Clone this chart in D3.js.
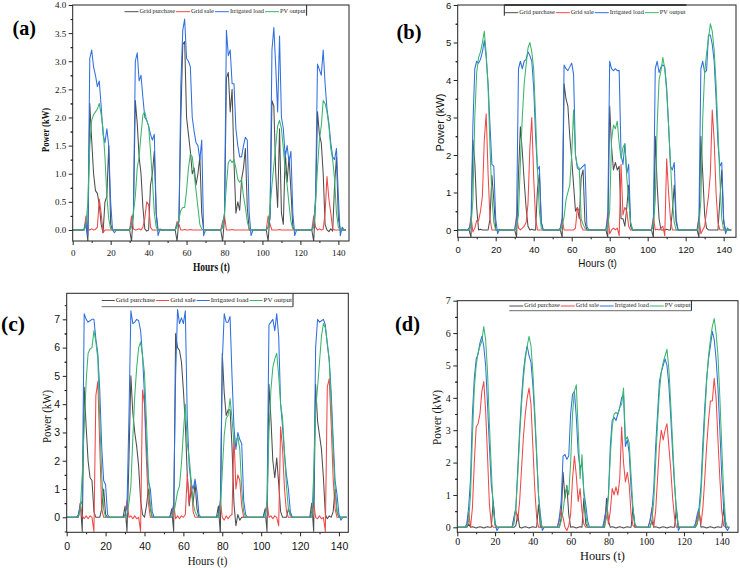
<!DOCTYPE html>
<html><head><meta charset="utf-8">
<script src="https://cdn.jsdelivr.net/npm/d3@7/dist/d3.min.js"></script>
<style>body{margin:0;background:#fff}svg{display:block}</style>
</head><body>
<svg id="chart" width="740" height="568"></svg>
<script>
// ---------------- DATA ----------------
const hours = d3.range(0, 145); // hourly time stamps t = 0..144
const seriesNames = ["Grid purchase", "Grid sale", "Irrigated load", "PV output"];
const xTicks = [0, 20, 40, 60, 80, 100, 120, 140];
const aYTicks = [0, 0.5, 1.0, 1.5, 2.0, 2.5, 3.0, 3.5, 4.0];
const bYTicks = [0, 1, 2, 3, 4, 5, 6];
const cYTicks = [0, 1, 2, 3, 4, 5, 6, 7];
const dYTicks = [0, 1, 2, 3, 4, 5, 6, 7];

// Panel (a)
const aPurchase = [
0,0,0,0,0,0,0,0.1,-0.2,2.25,1.6,1.0,0.7,0.65,0.45,0.1,-0.05,0.5,0.6,1.5,0.1,0,0,0,
0,0,0,0,0,0,0,-0.2,0.3,2.3,1.9,1.3,1.0,0.4,0.02,-0.02,0,0.8,1.0,1.4,0.3,0,0,0,
0,0,0,0,0,0,0,-0.2,0.2,2.0,3.3,3.35,2.0,1.7,1.4,1.0,1.1,0.8,1.0,1.3,0.3,0,0,0,
0,0,0,0,0,0,0,-0.2,0.2,2.7,2.8,2.1,2.5,1.2,0.3,0.5,0.35,0.9,1.1,1.45,0.4,0,0,0,
0,0,0,0,0,0,0,-0.2,0.3,2.3,2.2,1.0,0.4,1.8,0.3,0.1,1.4,0.85,1.3,0.7,0.05,0,0,0,
0,0,0,0,0,0,0,-0.2,0.5,2.1,1.7,1.55,1.0,0.1,0.0,-0.03,0.02,-0.02,0.8,1.3,0.2,0,0,0,
0];
const aSale = [
0,0,0,0,0,0,0,0.25,0.02,0,0.02,0,0.01,0.05,0.55,0.3,-0.05,0,0,0,0,0,0,0,
0,0,0,0,0,0,0,0.25,0.02,0,0.01,0.02,0,0.05,0.2,0.5,0.45,0.05,0,0,0,0,0,0,
0,0,0,0,0,0,0,0.15,0.1,0,0,0.01,0,0,0.01,0,0,0,0,0,0,0,0,0,
0,0,0,0,0,0,0,0.15,0.25,0,0,0,0.01,0,0,0,0,0,0,0,0,0,0,0,
0,0,0,0,0,0,0,0.25,0.1,0,0,0,0,0.01,0,0,0,0,0,0,0,0,0,0,
0,0,0,0,0,0,0,0.25,0.05,0,0.02,0,0.01,0.3,0.95,0.55,0.3,0.02,0,0,0,0,0,0,
0];
const aLoad = [
0,0,0,0,0,0,0.02,0.15,-0.1,3.05,3.2,2.9,2.75,2.55,2.65,2.2,1.7,1.55,1.8,1.5,0.5,0,-0.05,0,
0,0,0,0,0,0,0,0.1,0.3,3.0,3.15,2.65,2.75,2.35,2.0,1.95,1.85,1.7,1.6,1.7,0.3,-0.1,0.02,0,
0,0,0,0,0,0,0,0.1,0.15,2.6,3.55,3.75,3.05,3.0,2.9,2.0,1.75,1.55,1.5,1.25,1.6,-0.1,0,0,
0,0,0,0,0,0,0,0.05,0.3,3.55,3.1,3.2,2.6,2.6,1.8,1.5,1.3,1.3,1.5,1.65,1.6,0.3,-0.1,0,
0,0,0,0,0,0,0,0.05,0.2,3.2,3.6,2.9,2.1,3.45,2.0,1.8,1.3,1.5,1.2,1.4,0.3,-0.1,0,0,
0,0,0,0,0,0,0,0.1,0.6,2.95,2.85,2.75,3.2,2.6,2.15,1.9,1.55,1.3,1.25,1.45,0.6,-0.1,0.05,0,
0];
const aPV = [
0,0,0,0,0,0,0,0.1,0.5,1.5,1.95,2.05,2.1,2.15,2.25,2.05,1.8,1.3,0.6,0.2,0.02,0,0,0,
0,0,0,0,0,0,0,0.05,0.3,0.6,1.1,1.3,1.7,2.05,2.1,1.95,1.85,1.4,0.9,0.3,0.05,0,0,0,
0,0,0,0,0,0,0,0.05,0.2,0.35,0.4,0.4,0.7,1.1,1.35,1.3,1.0,0.7,0.4,0.1,0.02,0,0,0,
0,0,0,0,0,0,0,0.05,0.3,0.8,1.2,1.25,1.2,1.25,1.1,0.9,0.85,0.9,0.6,0.4,0.15,0.02,0,0,
0,0,0,0,0,0,0,0.05,0.4,0.8,1.15,1.5,1.85,1.95,1.8,1.45,1.05,0.8,0.45,0.15,0.02,0,0,0,
0,0,0,0,0,0,0,0.05,0.5,1.1,1.6,1.85,2.3,2.25,2.1,1.85,1.45,1.25,0.9,0.3,0.05,0,0,0,
0];

// Panel (b)
const bPurchase = [
0,0,0,0,0,0,0,-0.2,2.4,1.8,0.6,0.0,0.02,0,0,0,0,0.3,1.45,0.8,0,0,0,0,
0,0,0,0,0,0,0,-0.2,1.5,2.75,2.1,1.3,0.6,0.1,0,0.02,0,0,1.1,1.5,0.2,0,0,0,
0,0,0,0,0,0,0,-0.2,3.9,3.5,3.3,2.5,1.9,1.2,0.5,0.6,0.3,1.4,1.6,0.2,0,0,0,0,
0,0,0,0,0,0,0,-0.2,3.3,2.2,1.6,1.8,1.6,1.7,0.3,0.3,0.1,0.6,1.2,0.1,0,0,0,0,
0,0,0,0,0,0,0,-0.2,2.5,1.2,0.3,0,0,0,0.02,0,0,0.5,1.2,0.2,0,0,0,0,
0,0,0,0,0,0,0,-0.2,2.5,1.5,0.4,0.05,0,0,0,0,0,0,0.8,1.6,0.2,0,0,0,
0];
const bSale = [
0,0,0,0,0,0,0,0.35,-0.05,0.05,0.25,0.25,0.5,0.9,2.4,3.1,1.5,0.3,0,0,0,0,0,0,
0,0,0,0,0,0,0,0.4,0.05,0,0.05,0.1,0.2,0.7,2.2,3.0,1.4,0.3,0,0,0,0,0,0,
0,0,0,0,0,0,0,0.3,0,0,0,0,0,0,0.05,0.6,0.5,0.1,0,0,0,0,0,0,
0,0,0,0,0,0,0,0.45,-0.1,0,0.05,0,0.05,-0.15,1.75,0.4,0.6,0.5,0.1,0,0,0,0,0,
0,0,0,0,0,0,0,0.35,0,0.02,0,0.05,0.1,-0.15,1.9,1.0,0.3,0,0,0,0,0,0,0,
0,0,0,0,0,0,0,0.35,-0.1,0,0.1,0.5,0.9,1.5,3.2,2.4,1.0,0.2,0,0,0,0,0,0,
0];
const bLoad = [
0,0,0,0,0,0,0.05,0.2,2.8,4.3,4.5,4.45,4.55,4.75,5.05,4.6,3.9,2.8,1.75,1.7,0.3,-0.1,0.02,0,
0,0,0,0,0,0,0,0.3,4.3,4.5,4.3,4.5,4.55,4.75,4.65,4.5,3.8,2.5,1.6,1.7,0.2,0,0,0,
0,0,0,0,0,0,0.05,0.3,4.4,4.3,4.25,4.35,4.45,4.15,2.0,1.65,1.6,1.65,1.7,1.75,0.1,0,0,0,
0,0,0,0,0,0,0,0.3,4.5,4.3,4.25,4.3,4.25,4.25,2.0,1.75,2.3,1.5,1.75,0.2,0,0,0,0,
0,0,0,0,0,0,0,0.2,4.3,4.5,4.2,4.35,4.4,4.35,3.8,2.8,1.7,1.6,1.8,0.3,0,0,0,0,
0,0,0,0,0,0,0,0.3,4.3,4.5,4.2,4.25,5.2,5.2,4.95,4.5,3.5,2.3,1.7,1.8,0.3,-0.1,0.05,0,
0];
const bPV = [
0,0,0,0,0,0,0,0.1,0.8,3.0,4.2,4.6,4.75,5.0,5.3,4.7,3.8,2.2,0.9,0.2,0,0,0,0,
0,0,0,0,0,0,0,0.05,0.4,1.8,3.0,3.9,4.4,4.85,5.0,4.75,4.3,3.0,1.6,0.5,0.05,0,0,0,
0,0,0,0,0,0,0,0.1,0.35,0.8,1.0,1.2,2.0,3.2,2.0,1.7,1.65,0.3,0.15,0.05,0,0,0,0,
0,0,0,0,0,0,0,0.1,0.5,2.4,2.8,2.7,2.9,2.3,1.9,2.2,2.3,1.4,0.8,0.2,0,0,0,0,
0,0,0,0,0,0,0,0.1,0.8,2.8,4.0,4.25,4.6,4.3,3.7,2.8,1.8,0.8,0.2,0,0,0,0,0,
0,0,0,0,0,0,0,0.1,0.8,3.0,4.2,4.7,5.1,5.5,5.3,4.8,3.9,2.7,1.4,0.3,0,0,0,0,
0];

// Panel (c)
const cPurchase = [
0,0,0,0,0,0,0,0.5,-0.5,4.6,3.2,2.0,1.4,1.3,0.2,0,0,0,0.3,1.0,0.1,0,0,0,
0,0,0,0,0,0,0.4,-0.5,2.0,5.0,3.7,3.0,2.5,1.8,0.6,0.1,0,0.4,1.0,0.3,0,0,0,0,
0,0,0,0,0,0,0.3,-0.5,6.5,6.0,5.9,5.5,4.5,3.3,1.5,0.4,1.0,0.5,1.2,0.3,0,0,0,0,
0,0,0,0,0,0,0.4,-0.6,5.8,4.4,3.6,3.8,3.8,2.5,0.5,-0.3,0.1,-0.1,0,0,0,0,0,0,
0,0,0,0,0,0,0.3,-0.5,4.7,3.5,2.0,1.4,2.1,1.2,0.2,0,0,0,0.3,0.1,0,0,0,0,
0,0,0,0,0,0,0.5,-0.5,4.7,3.4,2.9,2.4,1.4,0.1,-0.05,0.05,0,0.2,1.0,0.2,0,0,0,0,
0];
const cSale = [
0,0,0,0,0,0,0,0.5,0.05,-0.05,0.05,-0.05,0.05,0,-0.5,4.3,4.8,2.5,0.3,0,0,0,0,0,
0,0,0,0,0,0,0,0.6,0,0.05,-0.05,0.05,-0.05,0,-0.5,4.5,4.0,2.0,0.5,0,0,0,0,0,
0,0,0,0,0,0,0,0.5,-0.05,0.05,-0.05,0.05,0,0.1,1.5,0.5,1.3,0.2,0,0,0,0,0,0,
0,0,0,0,0,0,0,0.6,0,-0.1,0.05,-0.05,0.05,0.1,2.9,1.0,1.5,1.3,0.4,0,0,0,0,0,
0,0,0,0,0,0,0,0.55,0,0.05,-0.05,0.05,0,-0.3,3.2,2.4,1.0,0.2,0,0,0,0,0,0,
0,0,0,0,0,0,0,0.5,0,-0.05,0.05,-0.05,0,-0.5,4.6,4.9,3.3,1.4,0.3,0,0,0,0,0,
0];
const cLoad = [
0,0,0,0,0,0,0.1,0.4,0.6,7.2,7.0,6.9,6.95,7.0,7.0,6.3,5.8,4.5,2.5,1.3,1.15,0.1,0,0,
0,0,0,0,0,0,0.1,0.4,3.5,7.3,6.85,6.9,7.0,6.95,6.6,5.7,4.3,2.5,1.3,1.0,0.2,0,0,0,
0,0,0,0,0,0,0.2,0.4,5.0,7.35,6.85,7.05,6.85,7.3,3.5,1.8,1.2,1.0,1.35,0.9,0.1,0,0,0,
0,0,0,0,0,0,0.1,0.5,5.5,7.2,6.9,6.9,7.1,5.0,3.2,2.4,3.0,2.75,2.6,0.6,0.1,0,0,0,
0,0,0,0,0,0,0.2,0.4,6.8,6.9,7.0,6.6,7.2,6.4,4.0,3.2,2.2,1.5,1.0,0.2,0,0,0,0,
0,0,0,0,0,0,0.2,0.5,6.0,7.0,6.9,6.95,7.0,6.8,6.1,5.6,4.4,2.8,1.3,0.8,0.1,-0.1,0,0,
0];
const cPV = [
0,0,0,0,0,0,0,0.3,1.5,3.2,4.8,5.8,5.95,6.0,6.6,6.2,5.6,3.5,1.5,0.3,0,0,0,0,
0,0,0,0,0,0,0,0.1,0.5,1.1,2.8,4.3,5.3,6.0,6.2,5.7,5.1,3.4,1.5,0.4,0,0,0,0,
0,0,0,0,0,0,0,0.1,0.5,0.9,1.1,1.9,3.0,4.0,2.6,2.1,1.3,0.5,0.2,0.05,0,0,0,0,
0,0,0,0,0,0,0,0.3,1.6,2.9,3.5,3.6,4.2,3.5,2.6,2.7,2.85,2.4,1.0,0.2,0,0,0,0,
0,0,0,0,0,0,0,0.5,3.0,4.5,5.3,5.6,5.8,5.0,4.0,3.5,2.3,1.1,0.3,0.05,0,0,0,0,
0,0,0,0,0,0,0,1.5,3.8,4.6,5.5,6.4,6.85,6.7,6.2,5.5,4.0,2.4,1.0,0.2,0,0,0,0,
0];

// Panel (d)
const dPurchase = [
0,0,0,0,0,0,0.1,0,0.02,0,-0.02,0,0.02,0,-0.02,0,0.02,0,0,0.8,0.1,0,0,0,
0,0,0,0,0,0,0,0.05,0.4,0,-0.02,0,0.02,0,-0.02,0,0.02,0,0,0.7,0,0,0,0,
0,0,0,0,0,0,0,0.3,1.7,0.9,1.3,0.4,0,0.02,0,-0.02,0,0.02,0,0.9,0.1,0,0,0,
0,0,0,0,0,0,0,0.9,0.2,0,0.02,0,-0.02,0,0.02,0,-0.02,0,0.02,0,0,0.6,0,0,
0,0,0,0,0,0,0,0.2,0,0.02,0,-0.02,0,0.02,0,-0.02,0,0.02,0,0,0.6,0,0,0,
0,0,0,0,0,0,0,0.1,0.5,0,0.02,0,-0.02,0,0.02,0,-0.02,0,0.02,0,0,0.6,0,0,
0];
const dSale = [
0,0,0,0,0,0,0.45,0.0,0.6,2.0,3.1,3.2,3.5,4.2,4.5,3.6,2.2,0.7,0.1,0,0,0,0,0,
0,0,0,0,0,0,0.3,0.55,0.2,0.8,1.8,2.8,3.5,4.0,4.3,3.8,2.5,1.2,0.3,0,0,0,0,0,
0,0,0,0,0,0,0.2,0.55,0.3,0,-0.1,0.05,0.4,1.5,2.2,1.6,0.8,1.2,0.5,0.1,0,0,0,0,
0,0,0,0,0,0,0.2,0.7,0.1,0.5,1.2,1.0,1.25,1.0,1.5,3.1,2.0,1.4,1.7,1.3,0.4,0.05,0,0,
0,0,0,0,0,0,0.2,0.6,0,0.5,1.5,2.5,3.0,2.7,3.0,3.2,2.5,1.8,0.9,0.3,0,0,0,0,
0,0,0,0,0,0,0,0.3,0.5,0.1,0.6,1.5,2.5,3.3,3.9,3.9,4.6,4.0,2.7,1.5,0.5,0.05,0,0,
0];
const dLoad = [
0,0,0,0,0,0.1,0.6,1.5,3.5,4.6,5.2,5.35,5.7,5.9,5.6,5.0,3.8,2.5,1.3,0.8,0.1,-0.1,0,0,
0,0,0,0,0,0,0.3,0.6,1.8,3.0,4.0,4.8,5.3,5.6,5.3,5.1,4.4,3.4,2.2,1.0,0.4,-0.1,0,0,
0,0,0,0,0,0,0.3,0.8,2.2,2.25,2.1,2.2,3.5,4.1,4.2,3.4,2.3,1.8,2.0,1.1,0.7,0.2,0,0,
0,0,0,0,0,0,0.3,0.6,1.0,2.5,3.3,3.4,3.3,3.5,3.7,4.0,4.1,2.5,2.7,2.3,1.2,0.5,0.1,0,
0,0,0,0,0,0,0.2,0.5,1.2,2.5,3.5,4.5,4.8,5.0,5.2,5.0,4.4,3.4,2.3,1.3,0.5,-0.1,0,0,
0,0,0,0,0,0,0.1,0.4,0.6,1.3,2.6,3.7,4.6,5.2,5.6,6.05,5.8,5.2,4.3,3.0,1.6,0.6,0,-0.1,
0];
const dPV = [
0,0,0,0,0,0,0.2,1.0,2.8,4.3,5.0,5.4,5.6,5.75,6.2,5.8,4.8,3.2,1.8,0.6,0.05,0,0,0,
0,0,0,0,0,0,0.1,0.6,1.6,2.8,3.8,4.6,5.2,5.6,5.9,5.6,4.8,3.6,2.3,1.0,0.2,0,0,0,
0,0,0,0,0,0,0,0.2,0.5,1.0,1.25,1.0,2.0,3.5,4.2,4.4,3.0,1.5,2.25,1.0,0.4,0,0,0,
0,0,0,0,0,0,0.05,0.3,0.9,2.2,3.1,3.5,3.55,3.5,3.7,3.8,4.3,2.7,2.8,2.6,1.6,0.6,0.1,0,
0,0,0,0,0,0,0,0.2,0.8,2.0,3.2,4.2,4.8,5.1,5.3,5.5,4.9,3.8,2.6,1.4,0.5,0.05,0,0,
0,0,0,0,0,0,0,0.1,0.4,1.0,2.2,3.4,4.5,5.3,5.8,6.2,6.45,6.0,5.3,4.0,2.5,1.1,0.2,0,
0];

// ---------------- STYLE / LAYOUT ----------------
const colors = ["#4d4d4d", "#f04848", "#2f6fe0", "#3ab56c"];
const SERIF = "'Liberation Serif','Times New Roman',serif";
const SANS = "'Liberation Sans',Arial,sans-serif";

const panels = [
  {label:"(a)", lx:12.5, ly:35, lLen:23.5, series:[aPurchase,aSale,aLoad,aPV], yTicks:aYTicks, yFmt:d3.format(".1f"),
   L:72.7, R:349, T:5, B:241, xMax:145.6, yMin:-0.196, yMax:4.0, yMinor:0.25,
   tickFont:SERIF, tickFs:9, xLabOff:11.7,
   titleFont:SERIF, titleW:"bold",
   xt:{x:211.5, y:270.5, fs:12, len:37}, yt:{x:46.7, y:130, fs:10.5, len:44},
   leg:{x:124.5, y:11.7, fs:6.3, line:14, right:true, bottom:false, left:false}},
  {label:"(b)", lx:396.5, ly:38.5, lLen:25, series:[bPurchase,bSale,bLoad,bPV], yTicks:bYTicks, yFmt:d3.format("d"),
   L:457.7, R:736, T:5, B:237.3, xMax:146.5, yMin:-0.195, yMax:6, yMinor:0.5,
   tickFont:SANS, tickFs:9.5, xLabOff:12,
   titleFont:SANS, titleW:"normal",
   xt:{x:597.5, y:266.5, fs:10.5, len:38.5}, yt:{x:440.5, y:122.5, fs:11.5, len:58}},
  {label:"(c)", lx:1, ly:330.5, lLen:24, series:[cPurchase,cSale,cLoad,cPV], yTicks:cYTicks, yFmt:d3.format("d"),
   L:66.7, R:348.3, T:293.3, B:532.3, xMax:144.8, yMin:-0.53, yMax:7.92, yMinor:0.5,
   tickFont:SANS, tickFs:10.5, xLabOff:14.4,
   titleFont:SERIF, titleW:"normal",
   xt:{x:207.5, y:565, fs:13.5, len:39.5}, yt:{x:48.3, y:416.5, fs:12.5, len:53}},
  {label:"(d)", lx:395, ly:330.5, lLen:25, series:[dPurchase,dSale,dLoad,dPV], yTicks:dYTicks, yFmt:d3.format("d"),
   L:457.3, R:738, T:300.7, B:532.3, xMax:148.6, yMin:-0.154, yMax:7.0, yMinor:0.5,
   tickFont:SERIF, tickFs:10, xLabOff:8.9,
   titleFont:SERIF, titleW:"normal",
   xt:{x:602.5, y:560, fs:12.5, len:45}, yt:{x:438.5, y:417.5, fs:12, len:55}}
];
panels[1].leg = {x:504.3, y:12.7, fs:6.3, line:14, right:false, bottom:false, left:true};
panels[2].leg = {x:101.7, y:300.5, fs:7, line:13, right:true, bottom:true, left:false, bottomY:306.7};
panels[3].leg = {x:509.3, y:306, fs:6.3, line:14, right:true, bottom:true, left:false, bottomY:310.7};

const svg = d3.select("#chart");

panels.forEach((p, pi) => {
  const g = svg.append("g");
  const x = d3.scaleLinear().domain([0, p.xMax]).range([p.L, p.R]);
  const y = d3.scaleLinear().domain([p.yMin, p.yMax]).range([p.B, p.T]);

  const cid = "clip" + pi;
  svg.append("clipPath").attr("id", cid).append("rect")
    .attr("x", p.L).attr("y", p.T).attr("width", p.R - p.L).attr("height", p.B - p.T);

  const line = d3.line().x((d, i) => x(hours[i])).y(d => y(d));
  const lg = g.append("g").attr("clip-path", `url(#${cid})`);
  p.series.forEach((s, si) => {
    lg.append("path").datum(s).attr("d", line)
      .attr("fill", "none").attr("stroke", colors[si]).attr("stroke-width", 1.05)
      .attr("stroke-linejoin", "round");
  });

  g.append("rect").attr("x", p.L).attr("y", p.T).attr("width", p.R - p.L).attr("height", p.B - p.T)
    .attr("fill", "none").attr("stroke", "#222").attr("stroke-width", 1);

  // x axis
  const gx = g.append("g").attr("transform", `translate(0,${p.B})`)
    .call(d3.axisBottom(x).tickValues(xTicks).tickSize(4).tickFormat(d3.format("d")));
  gx.selectAll("text").attr("y", p.xLabOff).attr("dy", "0.35em");
  const xMinor = xTicks.map(v => v + 10).filter(v => v < p.xMax);
  g.append("g").attr("transform", `translate(0,${p.B})`)
    .call(d3.axisBottom(x).tickValues(xMinor).tickSize(2).tickFormat(""));

  // y axis
  const gy = g.append("g").attr("transform", `translate(${p.L},0)`)
    .call(d3.axisLeft(y).tickValues(p.yTicks).tickSize(4).tickPadding(2.5).tickFormat(p.yFmt));
  const yMinorVals = p.yTicks.map(v => v + p.yMinor).filter(v => v < p.yMax + 1e-9)
    .concat(p.yTicks.map(v => v - p.yMinor).filter(v => v > p.yMin));
  g.append("g").attr("transform", `translate(${p.L},0)`)
    .call(d3.axisLeft(y).tickValues(yMinorVals).tickSize(2).tickFormat(""));

  g.selectAll(".domain").remove();
  g.selectAll(".tick line").attr("stroke", "#222");
  [gx, gy].forEach(a => a.selectAll("text").attr("font-family", p.tickFont).attr("font-size", p.tickFs).attr("fill", "#111"));

  // titles
  g.append("text").attr("x", p.xt.x).attr("y", p.xt.y).attr("text-anchor", "middle")
    .attr("font-family", p.titleFont).attr("font-size", p.xt.fs).attr("font-weight", p.titleW)
    .attr("textLength", p.xt.len).attr("lengthAdjust", "spacingAndGlyphs")
    .attr("fill", "#111").text("Hours (t)");
  g.append("text").attr("transform", `translate(${p.yt.x},${p.yt.y}) rotate(-90)`)
    .attr("text-anchor", "middle").attr("dominant-baseline", "middle")
    .attr("font-family", p.titleFont).attr("font-size", p.yt.fs).attr("font-weight", p.titleW)
    .attr("textLength", p.yt.len).attr("lengthAdjust", "spacingAndGlyphs")
    .attr("fill", "#111").text("Power (kW)");

  // panel label
  g.append("text").attr("x", p.lx).attr("y", p.ly).attr("font-family", SERIF)
    .attr("font-size", 21).attr("font-weight", "bold").attr("fill", "#000")
    .attr("textLength", p.lLen).attr("lengthAdjust", "spacingAndGlyphs").text(p.label);

  // legend
  const lgd = g.append("g");
  let cx = p.leg.x;
  seriesNames.forEach((name, si) => {
    lgd.append("line").attr("x1", cx).attr("x2", cx + p.leg.line).attr("y1", p.leg.y).attr("y2", p.leg.y)
      .attr("stroke", colors[si]).attr("stroke-width", 1);
    const t = lgd.append("text").attr("x", cx + p.leg.line + 1).attr("y", p.leg.y)
      .attr("dominant-baseline", "middle").attr("font-family", SERIF).attr("font-size", p.leg.fs)
      .attr("fill", "#222").text(name);
    cx += p.leg.line + 1 + t.node().getComputedTextLength() + 1;
  });
  if (p.leg.right) lgd.append("line").attr("x1", cx).attr("x2", cx).attr("y1", p.T).attr("y2", p.leg.bottomY || p.leg.y + 4)
    .attr("stroke", "#222").attr("stroke-width", 1);
  if (p.leg.left) {
    lgd.append("line").attr("x1", p.leg.x).attr("x2", p.leg.x).attr("y1", p.T).attr("y2", p.leg.y + 3)
      .attr("stroke", "#222").attr("stroke-width", 1);
    lgd.append("line").attr("x1", p.leg.x).attr("x2", cx).attr("y1", p.T).attr("y2", p.T)
      .attr("stroke", "#222").attr("stroke-width", 1.6);
  }
  if (p.leg.bottom) lgd.append("line").attr("x1", p.leg.x).attr("x2", cx).attr("y1", p.leg.bottomY).attr("y2", p.leg.bottomY)
    .attr("stroke", "#444").attr("stroke-width", 0.8);
});
</script>
</body></html>
